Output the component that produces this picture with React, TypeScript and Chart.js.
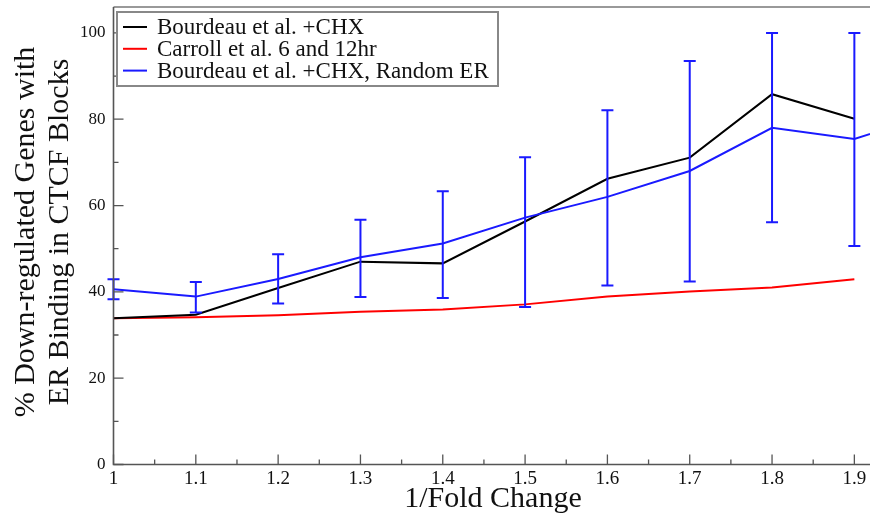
import React, { useEffect, useRef } from "react";
import { Chart, registerables } from "chart.js";

Chart.register(...registerables);

const xValues = [1.0, 1.1, 1.2, 1.3, 1.4, 1.5, 1.6, 1.7, 1.8, 1.9];
const bourdeauCHX = [33.9, 34.7, 40.9, 47.0, 46.6, 56.3, 66.2, 71.1, 85.8, 80.1];
const carroll = [33.9, 34.1, 34.6, 35.4, 35.9, 37.1, 38.9, 40.1, 41.0, 42.9];
const randomERx = [1.0, 1.1, 1.2, 1.3, 1.4, 1.5, 1.6, 1.7, 1.8, 1.9, 2.0];
const randomER = [40.6, 38.9, 43.0, 48.0, 51.2, 57.2, 62.0, 68.0, 78.0, 75.4, 81.5];
const randomERLow = [38.3, 35.2, 37.3, 38.8, 38.6, 36.5, 41.5, 42.4, 56.1, 50.6];
const randomERHigh = [42.9, 42.3, 48.7, 56.7, 63.3, 71.2, 82.1, 93.5, 100, 100];

const xTicks = [1.0, 1.1, 1.2, 1.3, 1.4, 1.5, 1.6, 1.7, 1.8, 1.9];
const xMinorTicks = [1.05, 1.15, 1.25, 1.35, 1.45, 1.55, 1.65, 1.75, 1.85];
const yTicks = [0, 20, 40, 60, 80, 100];
const yMinorTicks = [10, 30, 50, 70, 90];

const seriesLabels = [
  "Bourdeau et al. +CHX",
  "Carroll et al. 6 and 12hr",
  "Bourdeau et al. +CHX, Random ER",
];
const xTitle = "1/Fold Change";
const yTitleLines = ["% Down-regulated Genes with", "ER Binding in CTCF Blocks"];

const FONT = '"Liberation Serif", "Times New Roman", serif';

const decorPlugin = {
  id: "decor",
  afterDatasetsDraw(chart: any) {
    const { ctx, chartArea, scales } = chart;
    const xs = scales.x;
    const ys = scales.y;
    ctx.save();
    // error bars
    ctx.strokeStyle = "#1a1aff";
    ctx.lineWidth = 2;
    randomERLow.forEach((lo, i) => {
      const px = xs.getPixelForValue(xValues[i]);
      const pl = ys.getPixelForValue(lo);
      const ph = ys.getPixelForValue(randomERHigh[i]);
      ctx.beginPath();
      ctx.moveTo(px, pl);
      ctx.lineTo(px, ph);
      ctx.moveTo(px - 6, pl);
      ctx.lineTo(px + 6, pl);
      ctx.moveTo(px - 6, ph);
      ctx.lineTo(px + 6, ph);
      ctx.stroke();
    });
    // frame
    ctx.strokeStyle = "#999";
    ctx.lineWidth = 2;
    ctx.beginPath();
    ctx.moveTo(chartArea.left, chartArea.top);
    ctx.lineTo(chartArea.right, chartArea.top);
    ctx.stroke();
    ctx.strokeStyle = "#555";
    ctx.lineWidth = 1.6;
    ctx.beginPath();
    ctx.moveTo(chartArea.left, chartArea.top);
    ctx.lineTo(chartArea.left, chartArea.bottom);
    ctx.lineTo(chartArea.right, chartArea.bottom);
    ctx.stroke();
    // ticks
    ctx.lineWidth = 1.3;
    ctx.beginPath();
    xTicks.forEach((v) => {
      const p = xs.getPixelForValue(v);
      ctx.moveTo(p, chartArea.bottom);
      ctx.lineTo(p, chartArea.bottom - 10);
    });
    xMinorTicks.forEach((v) => {
      const p = xs.getPixelForValue(v);
      ctx.moveTo(p, chartArea.bottom);
      ctx.lineTo(p, chartArea.bottom - 5);
    });
    yTicks.forEach((v) => {
      const p = ys.getPixelForValue(v);
      ctx.moveTo(chartArea.left, p);
      ctx.lineTo(chartArea.left + 10, p);
    });
    yMinorTicks.forEach((v) => {
      const p = ys.getPixelForValue(v);
      ctx.moveTo(chartArea.left, p);
      ctx.lineTo(chartArea.left + 5, p);
    });
    ctx.stroke();

    // legend
    const bx = 117, by = 12, bw = 381, bh = 74;
    ctx.fillStyle = "#fff";
    ctx.fillRect(bx, by, bw, bh);
    ctx.strokeStyle = "#888";
    ctx.lineWidth = 2;
    ctx.strokeRect(bx, by, bw, bh);
    ctx.font = `23px ${FONT}`;
    ctx.textBaseline = "middle";
    ctx.textAlign = "left";
    chart.data.datasets.forEach((ds: any, i: number) => {
      const cy = 27 + i * 21.8;
      ctx.strokeStyle = ds.borderColor;
      ctx.lineWidth = 2;
      ctx.beginPath();
      ctx.moveTo(123, cy);
      ctx.lineTo(147, cy);
      ctx.stroke();
      ctx.fillStyle = "#111";
      ctx.fillText(ds.label, 157, cy + 1);
    });

    // axis titles
    ctx.fillStyle = "#111";
    ctx.textAlign = "center";
    ctx.textBaseline = "alphabetic";
    ctx.font = `30px ${FONT}`;
    ctx.fillText(xTitle, 493, 507);
    ctx.save();
    ctx.translate(0, 232);
    ctx.rotate(-Math.PI / 2);
    ctx.font = `30px ${FONT}`;
    ctx.fillText(yTitleLines[0], 0, 34);
    ctx.fillText(yTitleLines[1], 0, 68);
    ctx.restore();
    ctx.restore();
  },
};

export default function App() {
  const ref = useRef<HTMLCanvasElement | null>(null);
  useEffect(() => {
    if (!ref.current) return;
    const chart = new Chart(ref.current, {
      type: "line",
      data: {
        datasets: [
          {
            label: seriesLabels[0],
            data: xValues.map((x, i) => ({ x, y: bourdeauCHX[i] })),
            borderColor: "#000000",
            borderWidth: 2,
            pointRadius: 0,
            order: 1,
          },
          {
            label: seriesLabels[1],
            data: xValues.map((x, i) => ({ x, y: carroll[i] })),
            borderColor: "#ff0000",
            borderWidth: 2,
            pointRadius: 0,
            order: 2,
          },
          {
            label: seriesLabels[2],
            data: randomERx.map((x, i) => ({ x, y: randomER[i] })),
            borderColor: "#1a1aff",
            borderWidth: 2,
            pointRadius: 0,
            order: 0,
          },
        ],
      },
      options: {
        animation: false,
        responsive: true,
        maintainAspectRatio: false,
        layout: { padding: { left: 0, right: 0, top: 7, bottom: 0 } },
        plugins: { legend: { display: false }, tooltip: { enabled: false } },
        scales: {
          x: {
            type: "linear",
            min: 1.0,
            max: 1.919,
            grid: { display: false },
            border: { display: false },
            ticks: {
              color: "#111",
              font: { family: FONT, size: 19 },
              padding: -5,
              maxRotation: 0,
              autoSkip: false,
              callback: (v: any) => String(Number(v)),
            },
            afterBuildTicks: (s: any) => {
              s.ticks = xTicks.map((v) => ({ value: v }));
            },
            afterFit: (s: any) => {
              s.height = 53.5;
              s.paddingLeft = 0;
              s.paddingRight = 0;
            },
          },
          y: {
            min: 0,
            max: 106,
            grid: { display: false },
            border: { display: false },
            ticks: {
              color: "#111",
              font: { family: FONT, size: 17 },
              padding: 0,
              autoSkip: false,
            },
            afterBuildTicks: (s: any) => {
              s.ticks = yTicks.map((v) => ({ value: v }));
            },
            afterFit: (s: any) => {
              s.width = 113.5;
              s.paddingTop = 0;
              s.paddingBottom = 0;
            },
          },
        },
      },
      plugins: [decorPlugin],
    });
    return () => chart.destroy();
  }, []);
  return (
    <div style={{ position: "fixed", left: 0, top: 0, width: 870, height: 518, background: "#fff" }}>
      <canvas ref={ref} />
    </div>
  );
}
